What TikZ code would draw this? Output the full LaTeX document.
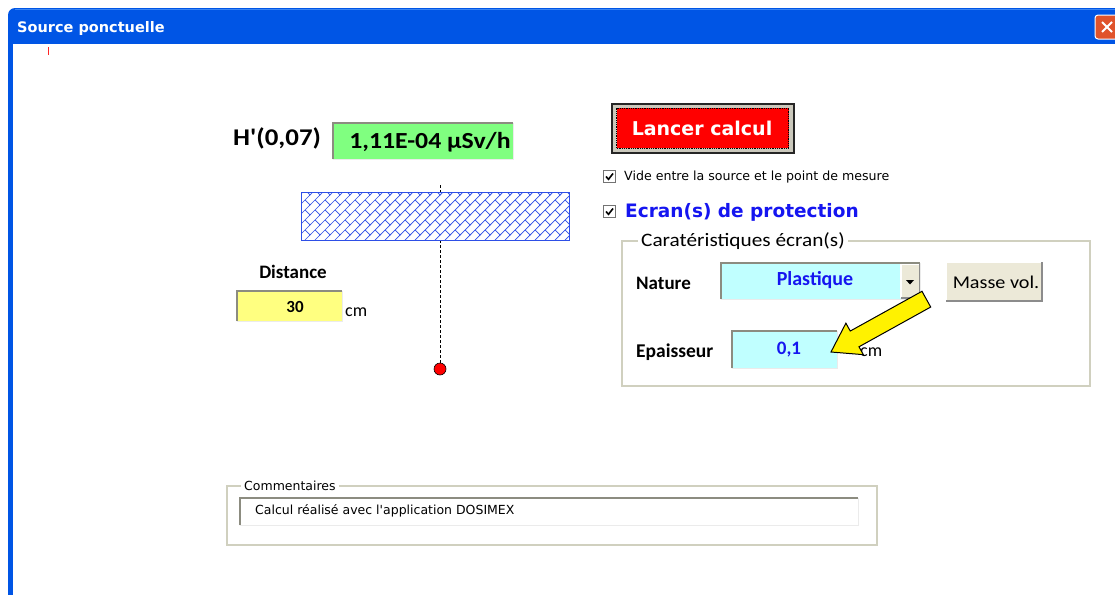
\documentclass[tikz,border=0pt]{standalone}
\usepackage{fontspec}
\setmainfont{DejaVu Sans}[Ligatures=TeXOff]
\newfontfamily\calfont{Carlito}[Ligatures=TeXOff]
\newfontfamily\calwide{Carlito}[Ligatures=TeXOff, FakeStretch=1.12]
\newfontfamily\dvfont{DejaVu Sans}[Ligatures=TeXOff]
\usetikzlibrary{patterns}

\definecolor{xpblue}{HTML}{0055E5}
\definecolor{xpbluelight}{HTML}{3A85F5}
\definecolor{xpred}{HTML}{E0532B}
\definecolor{vgreen}{HTML}{80FF80}
\definecolor{vyellow}{HTML}{FFFF80}
\definecolor{vcyan}{HTML}{C0FFFF}
\definecolor{xpbeige}{HTML}{ECE9D8}
\definecolor{grpgray}{HTML}{D0D0BF}
\definecolor{hatchblue}{HTML}{2E4FE6}
\definecolor{txtblue}{HTML}{1515F0}
\definecolor{sunkgray}{HTML}{8C8C80}

\pgfdeclarepatternformonly{screenbricks}{\pgfqpoint{-1pt}{-1pt}}{\pgfqpoint{11pt}{11pt}}{\pgfqpoint{10pt}{10pt}}{%
 \pgfsetlinewidth{0.7pt}%
 \pgfpathmoveto{\pgfqpoint{-1pt}{-1pt}}\pgfpathlineto{\pgfqpoint{11pt}{11pt}}%
 \pgfpathmoveto{\pgfqpoint{10pt}{0pt}}\pgfpathlineto{\pgfqpoint{5pt}{5pt}}%
 \pgfusepath{stroke}}

\newcommand\sunkbox[1]{%
  \draw[line width=2, sunkgray] (#1.south west) -- (#1.north west) -- (#1.north east);
  \draw[line width=1, white!92!black] (#1.north east) -- (#1.south east) -- (#1.south west);}
\newcommand\raisedbtn[1]{%
  \draw[line width=1.2, white] (#1.south west) -- (#1.north west) -- (#1.north east);
  \draw[line width=2, black!45] (#1.north east) -- (#1.south east) -- (#1.south west);}

\tikzset{
  lbl/.style={inner sep=0, anchor=west},
  fieldbox/.style={anchor=north west, inner sep=0},
  chkbox/.style={draw=black!55, fill=white, minimum size=12, inner sep=0, line width=0.8},
  calbold/.style={font=\calfont\bfseries\fontsize{#1}{#1}\selectfont},
  calreg/.style={font=\calfont\fontsize{#1}{#1}\selectfont},
  wbold/.style={font=\calwide\bfseries\fontsize{#1}{#1}\selectfont},
  wreg/.style={font=\calwide\fontsize{#1}{#1}\selectfont},
  dvreg/.style={font=\dvfont\fontsize{#1}{#1}\selectfont},
  dvbold/.style={font=\dvfont\bfseries\fontsize{#1}{#1}\selectfont},
  grpline/.style={draw=grpgray, line width=1.2},
  axisline/.style={line width=1, dash pattern=on 3pt off 2pt},
}

\begin{document}
\begin{tikzpicture}[x=1pt,y=-1pt]
\useasboundingbox (0,0) rectangle (1115,595);
\clip (0,0) rectangle (1115,595);
\fill[white] (0,0) rectangle (1115,595);

% window frame
\fill[xpblue, rounded corners=7pt] (8,8) rectangle (1140,100);
\draw[xpbluelight, line width=1.5] (15,9.5) -- (1115,9.5);
\fill[xpblue] (8,40) rectangle (12.5,595);
\fill[white] (12.5,44) rectangle (1115,595);
\node[lbl, text=white, dvbold=14.5] (title) at (17,28) {Source ponctuelle};
\node[draw=white, fill=xpred, rounded corners=3pt, line width=1, minimum width=24, minimum height=24, inner sep=0] (close) at (1107,27) {};
\draw[white, line width=2] ([shift={(-5,-5)}]close.center) -- ([shift={(5,5)}]close.center);
\draw[white, line width=2] ([shift={(-5,5)}]close.center) -- ([shift={(5,-5)}]close.center);
\draw[red!85!white, line width=1] (48,47) -- (48,55);

% result
\node[lbl, wbold=24] (hlab) at (233,138) {H'(0,07)};
\node[fieldbox, fill=vgreen, minimum width=180, minimum height=36] (res) at (333,123) {};
\sunkbox{res}
\node[wbold=23] (resv) at (430,142) {1,11E-04 µSv/h};

% geometry
\coordinate (axtop) at (440,185);
\node[circle, draw=black, fill=red, minimum size=12, inner sep=0, line width=0.6] (src) at (440,369) {};
\draw[axisline] (axtop) -- (src.north);
\node[fieldbox, draw=hatchblue, fill=white, minimum width=268, minimum height=48, line width=0.8] (screen) at (301,192) {};
\fill[pattern=screenbricks, pattern color=hatchblue] (screen.south west) rectangle (screen.north east);
\draw[hatchblue, line width=1] (screen.south west) rectangle (screen.north east);

\node[calbold=19] (dist) at (293,272) {Distance};
\node[fieldbox, fill=vyellow, minimum width=105, minimum height=30] (distv) at (237,291) {};
\sunkbox{distv}
\node[calbold=17] (distt) at (295,307) {30};
\node[lbl, calreg=18] (cm1) at (345,312) {cm};

% button
\node[fieldbox, fill=xpbeige!70!gray, draw=black!85, line width=1.5, minimum width=182, minimum height=49] (btn) at (611,103) {};
\node[fill=red, draw=black, densely dotted, line width=0.8, minimum width=172, minimum height=40, inner sep=0] (btnin) at (btn.center) {};
\node[text=white, dvbold=19] (btnt) at (702,128) {Lancer calcul};

% check boxes
\node[chkbox] (chk1) at (609.5,176.5) {};
\draw[line width=1.6] ([shift={(-3.5,0)}]chk1.center) -- ([shift={(-1,2.8)}]chk1.center) -- ([shift={(3.5,-3)}]chk1.center);
\node[lbl, dvreg=12.6] (vide) at (624,177) {Vide entre la source et le point de mesure};
\node[chkbox] (chk2) at (609.5,211.5) {};
\draw[line width=1.6] ([shift={(-3.5,0)}]chk2.center) -- ([shift={(-1,2.8)}]chk2.center) -- ([shift={(3.5,-3)}]chk2.center);
\node[lbl, text=txtblue, dvbold=18.5] (ecran) at (625,212) {Ecran(s) de protection};

% group box
\draw[grpline] (622,241) rectangle (1090,386);
\node[lbl, fill=white, inner xsep=3, wreg=19] (carac) at (638,241) {Caratéristiques écran(s)};
\node[lbl, calbold=19] (nature) at (636,283) {Nature};
\node[fieldbox, fill=vcyan, minimum width=199, minimum height=36] (combo) at (721,263) {};
\node[fieldbox, fill=xpbeige, minimum width=19, minimum height=34] (drop) at (901,264) {};
\raisedbtn{drop}
\sunkbox{combo}
\fill (906,280) -- (914,280) -- (910,284.5) -- cycle;
\node[text=txtblue, calbold=20] (plast) at (815,280) {Plastique};
\node[fieldbox, fill=xpbeige, minimum width=96, minimum height=39] (masse) at (946,262) {};
\raisedbtn{masse}
\node[wreg=18] (massev) at (996,282) {Masse vol.};
\node[lbl, calbold=19.5] (epais) at (636,352) {Epaisseur};
\node[fieldbox, fill=vcyan, minimum width=105, minimum height=37] (epv) at (732,331) {};
\sunkbox{epv}
\node[text=txtblue, calbold=19] (epvt) at (789,350) {0,1};
\node[lbl, calreg=18] (cm2) at (860,352) {cm};

% yellow arrow
\begin{scope}[shift={(831,352)}, rotate=29]
\filldraw[fill=yellow, draw=black, line width=1, line join=miter]
  (0,0) -- (27,-18) -- (27,-9) -- (109,-9) -- (109,9) -- (27,9) -- (27,18) -- cycle;
\end{scope}

% comments
\draw[grpline] (227,486) rectangle (877,545);
\node[lbl, fill=white, inner xsep=3, dvreg=12.5] (comm) at (241,486) {Commentaires};
\node[fieldbox, fill=white, minimum width=618, minimum height=27] (commbox) at (240,498) {};
\sunkbox{commbox}
\node[lbl, dvreg=12.5] (commt) at (255,511) {Calcul réalisé avec l'application DOSIMEX};
\end{tikzpicture}
\end{document}
